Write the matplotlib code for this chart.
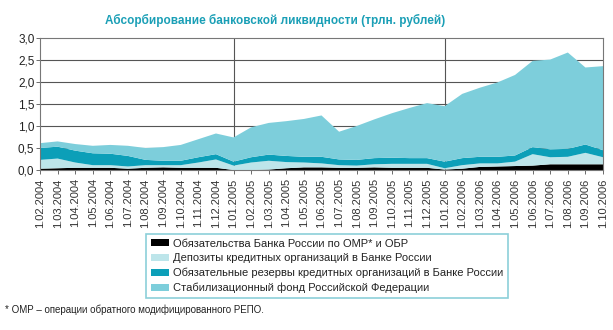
import matplotlib
matplotlib.use("Agg")
import matplotlib.pyplot as plt
import numpy as np
from matplotlib.patches import Patch

dates = ["1.02.2004", "1.03.2004", "1.04.2004", "1.05.2004", "1.06.2004", "1.07.2004",
         "1.08.2004", "1.09.2004", "1.10.2004", "1.11.2004", "1.12.2004", "1.01.2005",
         "1.02.2005", "1.03.2005", "1.04.2005", "1.05.2005", "1.06.2005", "1.07.2005",
         "1.08.2005", "1.09.2005", "1.10.2005", "1.11.2005", "1.12.2005", "1.01.2006",
         "1.02.2006", "1.03.2006", "1.04.2006", "1.05.2006", "1.06.2006", "1.07.2006",
         "1.08.2006", "1.09.2006", "1.10.2006"]

omr_obr = [0.03, 0.04, 0.05, 0.05, 0.05, 0.03, 0.05, 0.06, 0.05, 0.05, 0.05, 0.00,
           0.00, 0.01, 0.04, 0.06, 0.06, 0.05, 0.05, 0.06, 0.05, 0.05, 0.05, 0.01,
           0.03, 0.07, 0.08, 0.09, 0.10, 0.13, 0.13, 0.13, 0.13]
deposits = [0.20, 0.22, 0.12, 0.06, 0.06, 0.05, 0.06, 0.05, 0.06, 0.12, 0.19, 0.10,
            0.17, 0.20, 0.14, 0.11, 0.09, 0.06, 0.05, 0.07, 0.09, 0.09, 0.09, 0.03,
            0.08, 0.08, 0.07, 0.10, 0.26, 0.16, 0.17, 0.26, 0.16]
reserves = [0.27, 0.27, 0.27, 0.27, 0.26, 0.24, 0.12, 0.10, 0.10, 0.12, 0.12, 0.09,
            0.12, 0.14, 0.14, 0.13, 0.15, 0.13, 0.13, 0.14, 0.14, 0.13, 0.13, 0.15,
            0.16, 0.15, 0.15, 0.14, 0.16, 0.18, 0.18, 0.19, 0.16]
stab_fund = [0.11, 0.12, 0.15, 0.17, 0.20, 0.23, 0.27, 0.31, 0.36, 0.41, 0.47, 0.55,
             0.68, 0.72, 0.79, 0.86, 0.94, 0.63, 0.77, 0.88, 1.01, 1.14, 1.25, 1.26,
             1.46, 1.57, 1.69, 1.83, 1.96, 2.04, 2.19, 1.75, 1.91]

labels = ["Обязательства Банка России по ОМР* и ОБР",
          "Депозиты кредитных организаций в Банке России",
          "Обязательные резервы кредитных организаций в Банке России",
          "Стабилизационный фонд Российской Федерации"]
colors = ["#000000", "#bde5ea", "#0c9fb8", "#7dcedb"]
yticks = [0.0, 0.5, 1.0, 1.5, 2.0, 2.5, 3.0]
ytick_labels = ["0,0", "0,5", "1,0", "1,5", "2,0", "2,5", "3,0"]

plt.rcParams['font.family'] = ['Liberation Sans', 'DejaVu Sans']

fig = plt.figure(figsize=(6.13, 3.30), dpi=100)
ax = fig.add_axes([40 / 613, 1 - 170 / 330, (603 - 40) / 613, (170 - 38) / 330])

x = np.arange(len(dates))
ax.stackplot(x, omr_obr, deposits, reserves, stab_fund, colors=colors, linewidth=0, zorder=2)

ax.set_xlim(0, len(dates) - 1)
ax.set_ylim(0, 3.0)
ax.set_yticks(yticks)
ax.set_yticklabels(ytick_labels, fontsize=8.5, color="#222222")
ax.set_xticks(x)
ax.set_xticklabels(dates, rotation=90, fontsize=8, color="#333333")
ax.tick_params(axis='x', length=3, width=0.6, color="#555555", pad=3)
ax.tick_params(axis='y', length=3, width=0.6, color="#555555", pad=1)

for yv in yticks[1:-1]:
    ax.axhline(yv, color="#555555", linewidth=0.8, zorder=1)
for d in ["1.01.2005", "1.01.2006"]:
    ax.axvline(dates.index(d), color="#555555", linewidth=0.8, zorder=1)
for s in ax.spines.values():
    s.set_color("#777777")
    s.set_linewidth(0.8)

fig.text(275 / 613, 1 - 20 / 330, "Абсорбирование банковской ликвидности (трлн. рублей)",
         ha="center", va="center", fontsize=8.5, fontweight="bold", color="#1a9fb6")

handles = [Patch(facecolor=c, edgecolor='none') for c in colors]
leg = fig.legend(handles, labels, loc="center", bbox_to_anchor=(327 / 613, 1 - 266 / 330),
                 fontsize=8, frameon=True, fancybox=False, handlelength=1.6, handleheight=0.6,
                 handletextpad=0.4, labelspacing=0.4, borderpad=0.45)
leg.get_frame().set_edgecolor("#6fc3cf")
leg.get_frame().set_linewidth(1.2)
for t in leg.get_texts():
    t.set_color("#222222")

fig.text(5 / 613, 1 - 310 / 330, "* ОМР – операции обратного модифицированного РЕПО.",
         ha="left", va="center", fontsize=7, color="#222222")

fig.savefig("out.png", dpi=100)
